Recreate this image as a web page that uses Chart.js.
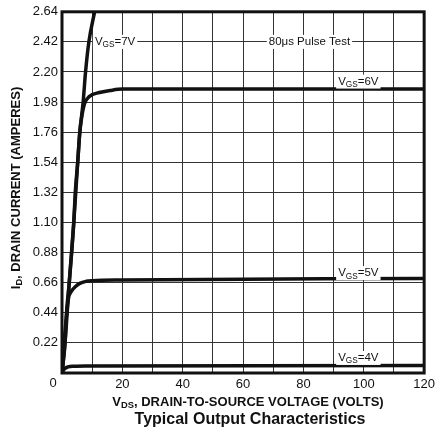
<!DOCTYPE html>
<html>
<head>
<meta charset="utf-8">
<script src="https://cdn.jsdelivr.net/npm/chart.js@4/dist/chart.umd.min.js"></script>
<style>
  body { margin: 0; background: #fff; }
</style>
</head>
<body>
<canvas id="curvas" width="439" height="430"></canvas>
<script>
// Valores (VDS en voltios, ID en amperios)
const vds7 = [0, 1.0, 1.5, 2.4, 3.2, 3.9, 4.4, 5.2, 5.9, 7.0, 7.8, 8.9, 10.8];
const id7  = [0, 0.22, 0.44, 0.66, 0.88, 1.10, 1.32, 1.54, 1.76, 1.98, 2.20, 2.42, 2.64];

const vds6 = [0, 1.0, 2.4, 3.9, 5.2, 5.9, 6.6, 7.5, 9.0, 12.4, 16, 20, 120];
const id6  = [0, 0.22, 0.66, 1.10, 1.54, 1.76, 1.88, 1.97, 2.02, 2.05, 2.065, 2.075, 2.075];

const vds5 = [0, 1.0, 2.1, 3.2, 4.4, 5.9, 8, 10, 20, 120];
const id5  = [0, 0.30, 0.54, 0.60, 0.63, 0.655, 0.67, 0.675, 0.68, 0.69];

const vds4 = [0, 0.8, 2.0, 4.0, 8, 120];
const id4  = [0, 0.03, 0.045, 0.05, 0.052, 0.055];

const ticksY = [0, 0.22, 0.44, 0.66, 0.88, 1.10, 1.32, 1.54, 1.76, 1.98, 2.20, 2.42, 2.64];

// Etiquetas dentro del grafico: [texto, subindice, resto, VDS, ID]
const etiquetas = [
  ['V', 'GS', '=7V', 10.9, 2.42],
  ['80\u03bcs Pulse Test', '', '', 68.5, 2.42],
  ['V', 'GS', '=6V', 91.5, 2.13],
  ['V', 'GS', '=5V', 91.5, 0.73],
  ['V', 'GS', '=4V', 91.5, 0.11]
];

const fuente = "'Liberation Sans', Arial, Helvetica, sans-serif";

function puntos(xs, ys) {
  return xs.map((x, i) => ({ x: x, y: ys[i] }));
}

function serie(xs, ys) {
  return {
    data: puntos(xs, ys),
    borderColor: '#111',
    borderWidth: 3.5,
    pointRadius: 0,
    cubicInterpolationMode: 'monotone',
    fill: false
  };
}

// Dibuja texto con subindices; partes = [[texto, esSub], ...]
function textoRico(ctx, partes, x, y, size, bold, align) {
  const peso = bold ? 'bold ' : '';
  let ancho = 0;
  partes.forEach(p => {
    ctx.font = peso + (p[1] ? size * 0.72 : size) + 'px ' + fuente;
    ancho += ctx.measureText(p[0]).width;
  });
  let cx = x;
  if (align === 'center') cx = x - ancho / 2;
  ctx.textBaseline = 'middle';
  ctx.textAlign = 'left';
  partes.forEach(p => {
    ctx.font = peso + (p[1] ? size * 0.72 : size) + 'px ' + fuente;
    ctx.fillText(p[0], cx, p[1] ? y + size * 0.28 : y);
    cx += ctx.measureText(p[0]).width;
  });
  return ancho;
}

const extras = {
  id: 'extras',
  afterDraw(chart) {
    const ctx = chart.ctx;
    const a = chart.chartArea;
    const sx = chart.scales.x;
    const sy = chart.scales.y;
    ctx.save();

    // marco grueso
    ctx.strokeStyle = '#111';
    ctx.lineWidth = 3;
    ctx.strokeRect(a.left, a.top, a.right - a.left, a.bottom - a.top);

    // etiquetas de las curvas con fondo blanco
    etiquetas.forEach(e => {
      const px = sx.getPixelForValue(e[3]);
      const py = sy.getPixelForValue(e[4]);
      const partes = [[e[0], false]];
      if (e[1]) partes.push([e[1], true]);
      if (e[2]) partes.push([e[2], false]);
      ctx.globalAlpha = 0;
      const w = textoRico(ctx, partes, px, py, 11.5, false, 'left');
      ctx.globalAlpha = 1;
      ctx.fillStyle = '#fff';
      ctx.fillRect(px - 2, py - 7, w + 4, 14);
      ctx.fillStyle = '#111';
      textoRico(ctx, partes, px, py, 11.5, false, 'left');
    });

    // origen
    ctx.fillStyle = '#111';
    ctx.font = '13px ' + fuente;
    ctx.textAlign = 'center';
    ctx.textBaseline = 'middle';
    ctx.fillText('0', a.left - 9, a.bottom + 10);

    // titulo eje X
    textoRico(ctx, [['V', false], ['DS', true], [', DRAIN-TO-SOURCE VOLTAGE (VOLTS)', false]],
      248, 402, 13, true, 'center');
    // titulo del grafico
    textoRico(ctx, [['Typical Output Characteristics', false]], 250, 420, 16, true, 'center');

    // titulo eje Y
    ctx.translate(16, 188);
    ctx.rotate(-Math.PI / 2);
    textoRico(ctx, [['I', false], ['D', true], [', DRAIN CURRENT (AMPERES)', false]],
      0, 0, 13, true, 'center');
    ctx.restore();
  }
};

new Chart(document.getElementById('curvas'), {
  type: 'line',
  data: {
    datasets: [serie(vds7, id7), serie(vds6, id6), serie(vds5, id5), serie(vds4, id4)]
  },
  options: {
    responsive: false,
    animation: false,
    devicePixelRatio: 1,
    layout: { padding: { top: 9, right: 10, left: 0, bottom: 0 } },
    plugins: { legend: { display: false }, tooltip: { enabled: false } },
    scales: {
      x: {
        type: 'linear',
        min: 0,
        max: 120,
        afterFit(s) { s.height = 57; },
        grid: { color: '#333', lineWidth: 1, drawTicks: false },
        border: { display: false },
        ticks: {
          stepSize: 10,
          padding: 4,
          maxRotation: 0,
          autoSkip: false,
          color: '#111',
          font: { family: fuente, size: 13 },
          callback: v => (v % 20 === 0 && v !== 0) ? v : ''
        }
      },
      y: {
        type: 'linear',
        min: 0,
        max: 2.64,
        afterFit(s) { s.width = 62; },
        afterBuildTicks(s) { s.ticks = ticksY.map(v => ({ value: v })); },
        grid: { color: '#333', lineWidth: 1, drawTicks: false },
        border: { display: false },
        ticks: {
          padding: 4,
          color: '#111',
          font: { family: fuente, size: 13 },
          callback: v => v === 0 ? '' : v.toFixed(2)
        }
      }
    }
  },
  plugins: [extras]
});
</script>
</body>
</html>
